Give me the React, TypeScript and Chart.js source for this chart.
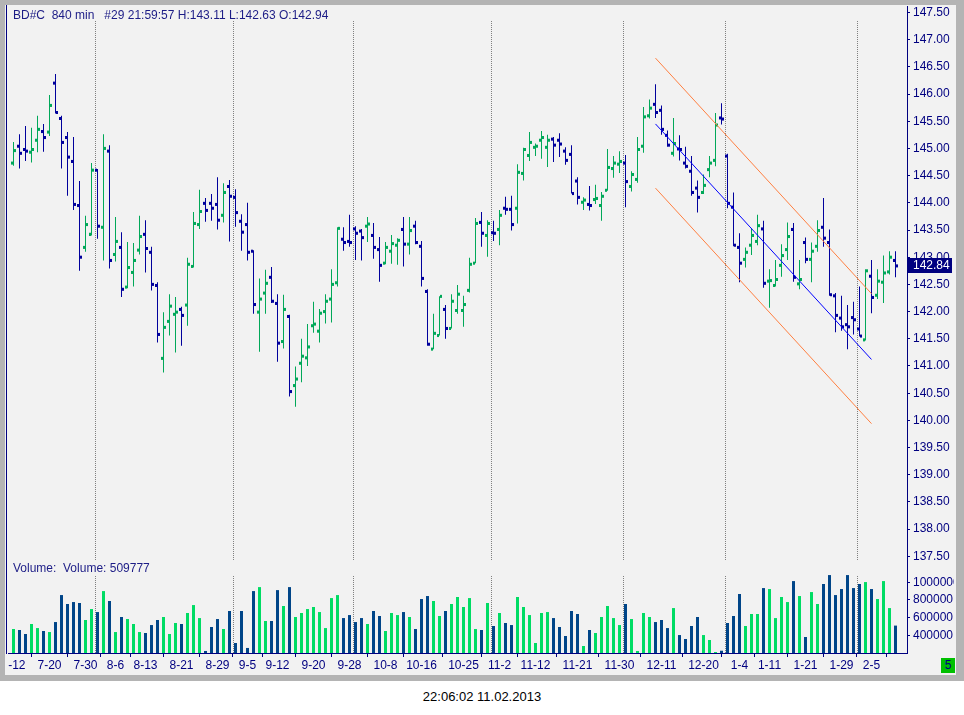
import { useEffect, useRef } from "react"
import { Chart, registerables, type Plugin } from "chart.js"

Chart.register(...registerables)

const FONT = "'Liberation Sans', Arial, sans-serif"
const NAVY = "#000080"
const TEXT = "#1c1c86"
const UP = "#00a859"
const DOWN = "#00009c"
const VOL_UP = "#00dc64"
const VOL_DOWN = "#004588"

// BD#C, 840 min bars, oldest first
const opens = [
  144.73, 145.04, 144.98, 144.93, 145.15, 145.31, 145.30, 146.20, 145.55, 145.20,
  144.76, 143.95, 143.18, 143.42, 144.60, 143.55, 144.95, 143.05, 143.18, 142.45,
  142.72, 143.13, 143.42, 143.09, 142.48, 141.14, 141.82, 141.95, 142.04, 142.12,
  142.83, 143.60, 143.99, 143.99, 143.97, 143.77, 144.30, 144.10, 143.66, 143.60,
  143.11, 141.99, 142.34, 142.63, 142.15, 141.45, 141.91, 140.64, 141.05, 141.15,
  141.74, 141.64, 142.00, 142.23, 142.53, 143.33, 143.29, 143.52, 143.48, 143.57,
  143.40, 143.14, 142.89, 143.11, 143.22, 143.51, 143.24, 143.57, 143.20, 142.37,
  141.31, 141.56, 142.04, 141.69, 142.02, 142.02, 142.39, 142.89, 143.64, 143.40,
  143.45, 143.51, 143.90, 143.88, 143.90, 144.54, 144.87, 145.02, 145.15, 145.02,
  145.17, 145.15, 144.95, 144.89, 144.40, 144.01, 143.97, 144.06, 143.95, 144.23,
  144.63, 144.71, 144.73, 144.30, 144.43, 145.04, 145.60, 145.81, 145.70, 145.24,
  144.91, 144.99, 144.73, 144.58, 144.27, 144.19, 144.61, 144.78, 145.56, 144.86,
  143.92, 143.18, 142.96, 143.22, 143.29, 143.52, 142.56, 142.48, 142.85, 143.14,
  143.51, 142.51, 143.27, 142.96, 143.20, 143.55, 143.27, 142.29, 141.88, 141.76,
  141.89, 141.68, 141.48, 142.65, 142.30, 142.54, 142.73, 142.94,
]
const highs = [
  145.12, 145.26, 145.41, 145.38, 145.60, 145.45, 145.98, 146.37, 145.60, 145.30,
  145.21, 144.40, 143.76, 144.73, 144.62, 145.26, 145.06, 143.74, 143.46, 143.28,
  143.26, 143.76, 143.68, 143.19, 142.54, 141.99, 142.32, 142.27, 142.09, 142.99,
  143.83, 144.24, 144.09, 144.16, 144.47, 144.36, 144.42, 144.25, 143.79, 144.00,
  143.13, 142.61, 142.77, 142.82, 142.32, 142.31, 141.94, 140.99, 141.50, 141.77,
  142.18, 142.05, 142.32, 142.78, 143.55, 143.55, 143.78, 143.57, 143.52, 143.74,
  143.63, 143.37, 143.28, 143.41, 143.35, 143.74, 143.74, 143.67, 143.30, 142.41,
  141.96, 142.28, 142.12, 142.32, 142.49, 142.29, 142.99, 143.72, 143.83, 143.68,
  143.67, 143.87, 144.11, 144.13, 144.71, 145.01, 145.30, 145.09, 145.32, 145.25,
  145.21, 145.28, 145.02, 145.06, 144.47, 144.10, 144.31, 144.33, 144.20, 144.99,
  144.86, 144.95, 144.88, 144.58, 145.21, 145.76, 145.90, 146.18, 145.79, 145.33,
  145.56, 145.24, 145.03, 144.86, 144.41, 144.52, 144.86, 145.65, 145.83, 144.90,
  144.19, 143.44, 143.18, 143.53, 143.78, 143.67, 142.78, 142.95, 143.24, 143.64,
  143.63, 142.95, 143.36, 143.27, 143.68, 144.09, 143.51, 142.34, 142.29, 142.12,
  142.18, 142.46, 142.78, 142.95, 142.78, 143.03, 143.11, 143.11,
]
const lows = [
  144.68, 144.63, 144.77, 144.74, 144.93, 144.94, 145.23, 145.64, 144.63, 144.13,
  143.87, 142.75, 143.10, 143.40, 143.34, 142.94, 142.79, 142.92, 142.27, 142.43,
  142.46, 143.05, 142.72, 142.39, 141.43, 140.88, 141.56, 141.25, 141.37, 141.74,
  142.81, 143.52, 143.65, 143.67, 143.51, 143.64, 143.29, 143.56, 143.12, 142.94,
  141.96, 141.26, 141.96, 142.16, 141.08, 141.32, 140.44, 140.25, 140.70, 141.00,
  141.61, 141.43, 141.78, 141.80, 142.46, 143.12, 143.19, 142.95, 142.94, 143.28,
  142.97, 142.55, 142.87, 142.88, 142.86, 142.83, 143.05, 143.24, 142.46, 141.37,
  141.31, 141.56, 141.50, 141.69, 141.96, 141.72, 142.35, 142.89, 143.19, 143.01,
  143.30, 143.22, 143.78, 143.49, 143.62, 144.41, 144.77, 144.86, 144.81, 144.66,
  144.75, 144.84, 144.70, 144.17, 143.97, 143.87, 143.86, 143.98, 143.67, 144.22,
  144.46, 144.55, 143.92, 144.21, 144.37, 144.92, 145.55, 145.56, 145.25, 145.03,
  144.85, 144.78, 144.63, 144.13, 143.82, 144.16, 144.47, 144.67, 145.44, 143.90,
  143.20, 142.54, 142.81, 143.04, 143.22, 142.44, 142.07, 142.46, 142.64, 142.95,
  142.55, 142.41, 142.89, 142.54, 143.10, 143.19, 142.29, 141.62, 141.65, 141.31,
  141.58, 141.54, 141.47, 141.97, 142.23, 142.16, 142.68, 142.63,
]
const closes = [
  144.96, 144.91, 144.95, 144.98, 145.35, 145.20, 145.79, 145.66, 145.11, 144.84,
  143.97, 143.00, 143.60, 144.60, 143.57, 145.00, 142.94, 143.29, 142.41, 142.81,
  142.94, 143.38, 143.16, 142.50, 141.58, 141.71, 142.10, 141.99, 141.93, 142.87,
  143.62, 143.84, 143.86, 143.90, 143.68, 144.19, 144.12, 143.82, 143.46, 143.09,
  142.13, 142.23, 142.52, 142.19, 141.42, 142.04, 140.53, 140.76, 141.18, 141.35,
  141.77, 141.97, 142.19, 142.50, 143.53, 143.27, 143.27, 143.44, 143.36, 143.61,
  143.18, 142.85, 143.18, 143.25, 143.31, 143.24, 143.49, 143.27, 142.61, 141.40,
  141.60, 142.28, 141.69, 142.19, 142.32, 142.13, 142.87, 143.62, 143.44, 143.62,
  143.44, 143.77, 143.88, 143.60, 144.56, 144.98, 145.11, 145.04, 145.20, 145.15,
  145.06, 145.08, 144.78, 144.17, 144.10, 144.05, 143.95, 144.08, 144.12, 144.65,
  144.73, 144.76, 144.39, 144.52, 144.98, 145.58, 145.74, 145.66, 145.35, 145.06,
  145.09, 144.98, 144.67, 144.19, 144.10, 144.32, 144.73, 145.43, 145.54, 143.99,
  143.22, 142.89, 143.09, 143.40, 143.58, 142.52, 142.57, 142.59, 143.03, 143.38,
  142.63, 142.59, 142.96, 143.11, 143.49, 143.35, 142.31, 141.93, 141.72, 141.72,
  141.85, 141.55, 142.75, 142.26, 142.56, 142.71, 143.00, 142.84,
]
const volumes = [
  471000, 460000, 415000, 528000, 482000, 449000, 437000, 550000, 855000, 754000,
  776000, 765000, 573000, 697000, 663000, 900000, 788000, 437000, 607000, 584000,
  528000, 437000, 426000, 516000, 573000, 607000, 415000, 539000, 528000, 652000,
  742000, 595000, 223000, 494000, 584000, 471000, 675000, 313000, 675000, 257000,
  900000, 945000, 562000, 562000, 911000, 731000, 945000, 607000, 652000, 697000,
  720000, 663000, 482000, 821000, 855000, 595000, 629000, 550000, 595000, 528000,
  675000, 618000, 449000, 652000, 629000, 663000, 607000, 471000, 810000, 844000,
  788000, 618000, 675000, 754000, 833000, 720000, 821000, 471000, 460000, 765000,
  505000, 652000, 539000, 516000, 833000, 720000, 629000, 313000, 652000, 663000,
  595000, 494000, 392000, 675000, 641000, 279000, 460000, 426000, 607000, 731000,
  595000, 516000, 754000, 584000, 223000, 652000, 607000, 550000, 573000, 482000,
  708000, 403000, 358000, 505000, 607000, 403000, 347000, 211000, 226000, 539000,
  618000, 867000, 505000, 641000, 641000, 934000, 923000, 595000, 833000, 776000,
  1013000, 844000, 381000, 889000, 754000, 980000, 1081000, 855000, 923000, 1081000,
  934000, 980000, 1002000, 923000, 810000, 1013000, 708000, 509777,
]

const dateTickBars = [0, 6, 12, 17, 22, 28, 34, 39, 44, 50, 56, 62, 68, 75, 81, 87, 94, 101, 108, 115, 121, 126, 132, 138, 143]
const dateTickLabels = [
  "7-12", "7-20", "7-30", "8-6", "8-13", "8-21", "8-29", "9-5", "9-12", "9-20", "9-28", "10-8", "10-16",
  "10-25", "11-2", "11-12", "11-21", "11-30", "12-11", "12-20", "1-4", "1-11", "1-21", "1-29", "2-5",
]
const monthStartBars = [14, 37, 57, 80, 102, 119, 141]
const priceTicks = [
  137.5, 138, 138.5, 139, 139.5, 140, 140.5, 141, 141.5, 142, 142.5,
  143, 143.5, 144, 144.5, 145, 145.5, 146, 146.5, 147, 147.5,
]
const volumeTicks = [400000, 600000, 800000, 1000000]

// trend channel over the last two months
const channelBars = [107, 143]
const channelMid = [145.45, 141.12]
const channelUpper = [146.66, 142.33]
const channelLower = [144.27, 139.94]

// x range chosen so every bar lands on a 6px grid
const X_MIN = -0.9167
const X_MAX = 148.917
const P_MIN = 137.415
const P_MAX = 147.618
const V_MIN = 200000
const V_MAX = 1240000
const TICK_HALF = 0.028
const AXIS_W = 47

const last = closes.length - 1
const barIndex = closes.map((_, i) => i)
const isUp = closes.map((c, i) => c >= opens[i])

function monthLines(top: number): Plugin {
  return {
    id: "monthLines",
    beforeDatasetsDraw(chart) {
      const { ctx, chartArea, scales } = chart
      ctx.save()
      ctx.strokeStyle = "#808080"
      ctx.lineWidth = 1
      ctx.setLineDash([1, 1])
      for (const b of monthStartBars) {
        const x = Math.floor(scales.x.getPixelForValue(b - 1 / 3)) + 0.5
        ctx.beginPath()
        ctx.moveTo(x, top)
        ctx.lineTo(x, chartArea.bottom)
        ctx.stroke()
      }
      ctx.restore()
    },
  }
}

const priceOverlay: Plugin = {
  id: "priceOverlay",
  afterDraw(chart) {
    const { ctx, chartArea, scales } = chart
    ctx.save()
    ctx.font = `12px ${FONT}`
    ctx.textBaseline = "alphabetic"
    ctx.fillStyle = TEXT
    const title =
      `BD#C  840 min   #29 21:59:57 H:${highs[last].toFixed(2)} ` +
      `L:${lows[last].toFixed(2)} O:${opens[last].toFixed(2)}`
    ctx.fillText(title, 5, 14)

    // last price tag on the axis
    const y = scales.y.getPixelForValue(closes[last])
    ctx.fillStyle = NAVY
    ctx.fillRect(chartArea.right + 1, Math.round(y) - 8, 44, 15)
    ctx.fillStyle = "#ffffff"
    ctx.textBaseline = "middle"
    ctx.fillText(closes[last].toFixed(2), chartArea.right + 6, Math.round(y))
    ctx.restore()
  },
}

const volumeOverlay: Plugin = {
  id: "volumeOverlay",
  afterDraw(chart) {
    const { ctx } = chart
    ctx.save()
    ctx.font = `12px ${FONT}`
    ctx.fillStyle = TEXT
    ctx.fillText(`Volume:  Volume: ${volumes[last]}`, 5, 11)
    ctx.restore()
  },
}

const rightAxis = (min: number, max: number, ticks: number[], fmt: (v: number) => string) => ({
  position: "right" as const,
  min,
  max,
  afterBuildTicks: (s: any) => {
    s.ticks = ticks.map((v) => ({ value: v }))
  },
  afterFit: (s: any) => {
    s.width = AXIS_W
    s.paddingTop = 0
    s.paddingBottom = 0
  },
  ticks: { color: NAVY, padding: 3, font: { size: 12 }, callback: (v: any) => fmt(Number(v)) },
  grid: { drawOnChartArea: false, tickLength: 3, color: NAVY },
  border: { color: NAVY },
})

export default function App() {
  const priceRef = useRef<HTMLCanvasElement>(null)
  const volRef = useRef<HTMLCanvasElement>(null)

  useEffect(() => {
    if (!priceRef.current || !volRef.current) return
    Chart.defaults.font.family = FONT
    Chart.defaults.font.size = 12

    const tickBar = (values: number[], shift: number) => ({
      type: "bar" as const,
      data: barIndex.map((i) => ({ x: i + shift, y: [values[i] - TICK_HALF, values[i] + TICK_HALF] })),
      backgroundColor: isUp.map((u) => (u ? UP : DOWN)),
      barThickness: 2,
      grouped: false,
      inflateAmount: 0,
      order: 1,
    })
    const channel = (vals: number[], color: string) => ({
      type: "line" as const,
      data: channelBars.map((b, j) => ({ x: b, y: vals[j] })),
      borderColor: color,
      borderWidth: 1,
      pointRadius: 0,
      order: 0,
    })

    const price = new Chart(priceRef.current, {
      type: "bar",
      data: {
        datasets: [
          {
            type: "bar",
            data: barIndex.map((i) => ({ x: i, y: [lows[i], highs[i]] })),
            backgroundColor: isUp.map((u) => (u ? UP : DOWN)),
            barThickness: 1,
            grouped: false,
            inflateAmount: 0,
            order: 1,
          },
          tickBar(opens, -0.25),
          tickBar(closes, 0.25),
          channel(channelMid, "#0000ff"),
          channel(channelUpper, "#ff7f40"),
          channel(channelLower, "#ff7f40"),
        ] as any,
      },
      options: {
        responsive: false,
        animation: false,
        events: [],
        layout: { padding: { top: 1, left: 0, right: 0, bottom: 0 } },
        plugins: { legend: { display: false }, tooltip: { enabled: false } },
        scales: {
          x: { type: "linear", min: X_MIN, max: X_MAX, offset: false, display: false },
          y: rightAxis(P_MIN, P_MAX, priceTicks, (v) => v.toFixed(2)),
        },
      },
      plugins: [monthLines(16), priceOverlay],
    })

    const volume = new Chart(volRef.current, {
      type: "bar",
      data: {
        datasets: [
          {
            data: barIndex.map((i) => ({ x: i, y: volumes[i] })),
            backgroundColor: isUp.map((u) => (u ? VOL_UP : VOL_DOWN)),
            barThickness: 3,
            grouped: false,
            inflateAmount: 0,
          },
        ] as any,
      },
      options: {
        responsive: false,
        animation: false,
        events: [],
        layout: { padding: 0 },
        plugins: { legend: { display: false }, tooltip: { enabled: false } },
        scales: {
          x: {
            type: "linear",
            min: X_MIN,
            max: X_MAX,
            offset: false,
            afterBuildTicks: (s: any) => {
              s.ticks = dateTickBars.map((v) => ({ value: v }))
            },
            afterFit: (s: any) => {
              s.height = 22
              s.paddingLeft = 0
              s.paddingRight = 0
            },
            ticks: {
              autoSkip: false,
              maxRotation: 0,
              color: NAVY,
              padding: 1,
              callback: (_v: any, i: number) => dateTickLabels[i],
            },
            grid: { drawOnChartArea: false, tickLength: 4, color: NAVY },
            border: { color: NAVY },
          },
          y: rightAxis(V_MIN, V_MAX, volumeTicks, (v) => String(v)),
        },
      },
      plugins: [monthLines(15), volumeOverlay],
    })

    return () => {
      price.destroy()
      volume.destroy()
    }
  }, [])

  return (
    <div style={{ position: "fixed", left: 0, top: 0, width: 964, height: 715, background: "#ffffff", fontFamily: FONT }}>
      <div style={{ position: "absolute", left: 0, top: 0, width: 964, height: 681, background: "#b4b4b4" }} />
      <div style={{ position: "absolute", left: 5, top: 5, width: 951, height: 670, background: "#f2f2f2" }} />
      <div style={{ position: "absolute", left: 6, top: 5, width: 1, height: 649, background: NAVY }} />
      <canvas ref={priceRef} width={946} height={556} style={{ position: "absolute", left: 8, top: 5 }} />
      <canvas ref={volRef} width={946} height={114} style={{ position: "absolute", left: 8, top: 561 }} />
      <div
        style={{
          position: "absolute", left: 941, top: 658, width: 14, height: 15, background: "#00c000",
          color: NAVY, fontSize: 12, lineHeight: "15px", textAlign: "center",
        }}
      >
        5
      </div>
      <div style={{ position: "absolute", left: 0, top: 689, width: 964, textAlign: "center", fontSize: 13, color: "#000" }}>
        22:06:02 11.02.2013
      </div>
    </div>
  )
}
